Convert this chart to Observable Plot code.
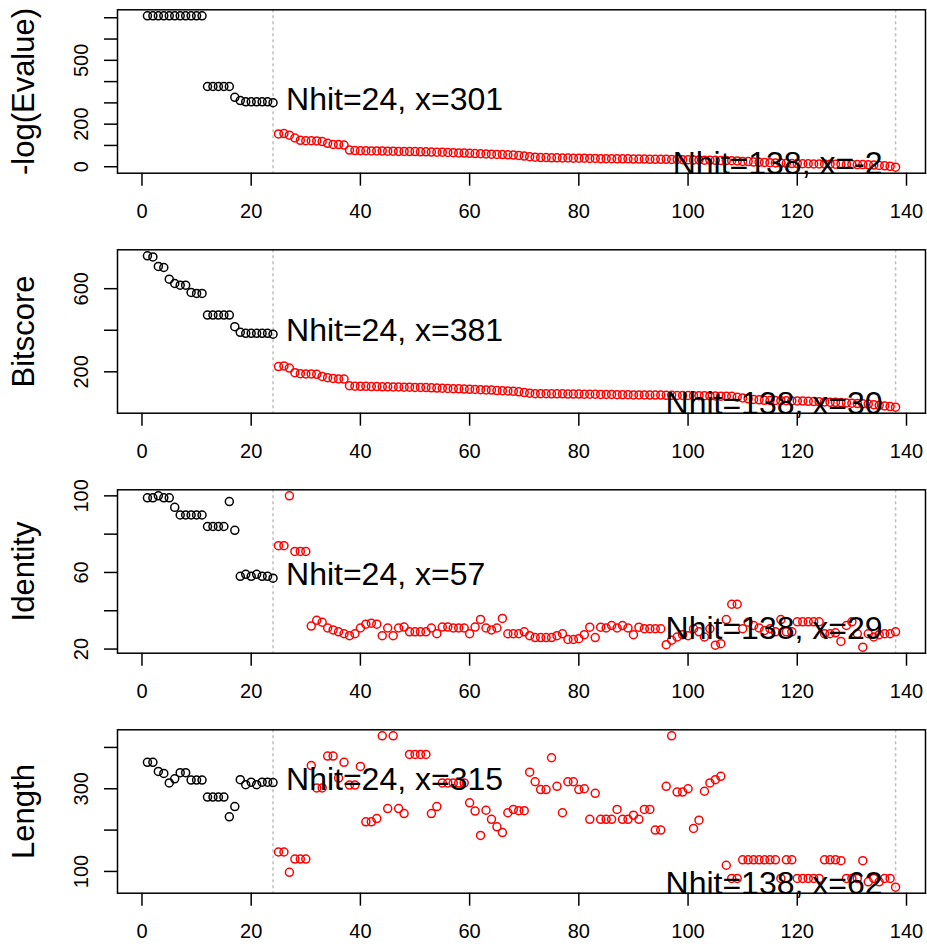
<!DOCTYPE html>
<html><head><meta charset="utf-8">
<script src="https://cdn.jsdelivr.net/npm/d3@7"></script>
<script src="https://cdn.jsdelivr.net/npm/@observablehq/plot@0.6"></script>
<style>
body{margin:0;background:#fff;}
#chart{width:927px;}
#chart svg{display:block;}
</style></head><body><div id="chart"></div>
<script>
// ---- data (hit rank 1..138) ----
const evalue = [709,709,709,709,709,709,709,709,709,709,709,
377,377,377,377,377,
326,311,305,305,305,305,305,301,
154,156,148,135,124,122,122,121,118,110,105,104,102,
78,76,75,75,74,74,74,73,73,72,72,71,71,70,70,69,68,68,67,66,65,64,63,62,61,60,59,58,57,56,55,53,50,47,45,43,
43,42,42,41,41,40,40,40,39,39,38,38,
38,37,37,37,36,36,36,35,35,35,35,
34,34,33,33,32,32,31,31,30,29,29,28,
27,25,24,22,21,20,
19,18,17,16,15,15,14,14,13,13,13,
12,12,12,11,11,10,10,9,
8,6,4,2,-2];

const bitscore = [758,753,707,702,646,625,617,617,582,577,577,
473,473,473,473,473,
417,390,385,385,385,385,385,381,
225,228,218,196,191,190,190,188,178,172,168,166,165,133,131,
130,130,129,129,128,128,127,127,126,126,125,125,124,123,122,121,120,119,118,117,116,115,114,113,112,110,109,108,
106,104,100,97,95,
95,95,94,94,94,93,93,93,92,92,92,91,
91,91,90,90,90,89,89,89,88,88,88,87,
87,86,86,86,85,85,85,84,84,83,83,82,
78,74,70,67,65,63,
62,62,61,61,60,60,59,58,57,56,55,54,53,
52,50,49,47,46,45,
42,39,36,33,30];

const identity = [99,99,100,99,99,94,90,90,90,90,90,84,84,84,84,97,82,58,59,58,59,58,58,57,
74,74,100,71,71,71,32,35,34,31,30,29,28,27,28,31,33,33.5,33,27,31,27,31,31.5,29,29,29,29,31,28,31.5,31.5,31,31,31,28,31.5,35.5,31,30,31,36,28,
28,28,29,27,26,26,26,26,27,28,25,25,25.4,27.5,31.4,26,31.4,31,32.3,31,32.3,31,27.5,31.4,30.6,30.6,30.6,30.6,
22.3,24.6,26.3,27.5,27,30.6,29,26.3,30.6,22,22.8,35.4,43.4,43.4,30.6,34,32.3,31,29.7,30.6,29,35.4,29,29,
34.2,34.2,34.2,34.2,34.2,28,28,28.5,24,32.3,34.2,28,21,28,26.3,27.5,28,28,29];

const length = [364,364,342,337,314,324,339,339,321,321,321,280,280,280,280,232,257,322,310,316,310,316,316,315,
147,147,98,130,130,130,356,302,302,379,379,326,364,309,309,354,220,220,228,428,252,428,252,240,383,383,383,383,240,257,314,314,314,314,314,266,246,187,248,226,208,194,242,
250,247,247,340,317,298,298,375,306,242,317,317,298,300,226,289,226,226,226,250,226,226,236,226,250,250,200,200,306,428,292,292,300,204,224,294,314,322,330,
115,83,83,128,128,128,128,128,128,128,83,128,128,83,83,83,83,83,128,128,128,126,83,83,83,126,75,83,75,83,83,62];

const titles = ["-log(Evalue)", "Bitscore", "Identity", "Length"];
const yTicks = [[0,100,200,300,400,500,600,700],[200,400,600],[20,40,60,80,100],[100,200,300,400]];
const yTickLabels = [[0,200,500],[200,600],[20,60,100],[100,300]];
const xTicks = [0,20,40,60,80,100,120,140];
const cutTop = 24, cutAll = 138;

const series = [evalue, bitscore, identity, length];
const font = "'Liberation Sans', Arial, Helvetica, sans-serif";
const chart = document.getElementById("chart");

series.forEach((vals, i) => {
  const data = vals.map((v, j) => ({rank: j + 1, value: v}));
  const [lo, hi] = d3.extent(vals);
  const pad = (hi - lo) * 0.04;
  const xpad = (cutAll - 1) * 0.04;
  const last = i === series.length - 1;
  const height = last ? 224 : 240;
  const svg = Plot.plot({
    width: 927,
    height,
    marginLeft: 117,
    marginRight: 2,
    marginTop: 9.3,
    marginBottom: height - 9.3 - 163.4,
    x: {domain: [1 - xpad, cutAll + xpad]},
    y: {domain: [lo - pad, hi + pad]},
    style: {fontFamily: font, fontSize: "20px", background: "white", color: "black", overflow: "visible"},
    marks: [
      Plot.ruleX([cutTop, cutAll], {stroke: "#bebebe", strokeWidth: 1.5, strokeDasharray: "3,3"}),
      Plot.dot(data.filter(d => d.rank <= cutTop), {x: "rank", y: "value", r: 4, stroke: "black", strokeWidth: 1.5}),
      Plot.dot(data.filter(d => d.rank > cutTop), {x: "rank", y: "value", r: 4, stroke: "red", strokeWidth: 1.5}),
      Plot.frame({stroke: "black", strokeWidth: 1.5}),
      Plot.axisX({ticks: xTicks, tickSize: 13, tickPadding: 18, label: null, strokeWidth: 1.5, fontSize: 20}),
      Plot.axisY({ticks: yTicks[i], tickSize: 13, tickFormat: () => "", label: null, strokeWidth: 1.5}),
      Plot.text(yTickLabels[i], {y: d => d, text: d => String(d), frameAnchor: "left", rotate: -90, textAnchor: "middle", lineAnchor: "bottom", dx: -30, fontSize: 20, fill: "black"}),
      Plot.text([titles[i]], {text: d => d, frameAnchor: "left", rotate: -90, textAnchor: "middle", lineAnchor: "middle", dx: -93, fontSize: 31, fill: "black"}),
      Plot.text([data[cutTop - 1]], {x: "rank", y: "value", text: d => `Nhit=${d.rank}, x=${d.value}`, textAnchor: "start", dx: 13, dy: -3, fontSize: 32, fill: "black"}),
      Plot.text([data[cutAll - 1]], {x: "rank", y: "value", text: d => `Nhit=${d.rank}, x=${d.value}`, textAnchor: "end", dx: -13, dy: -3, fontSize: 32, fill: "black"})
    ]
  });
  chart.appendChild(svg);
});
</script>
</body></html>
